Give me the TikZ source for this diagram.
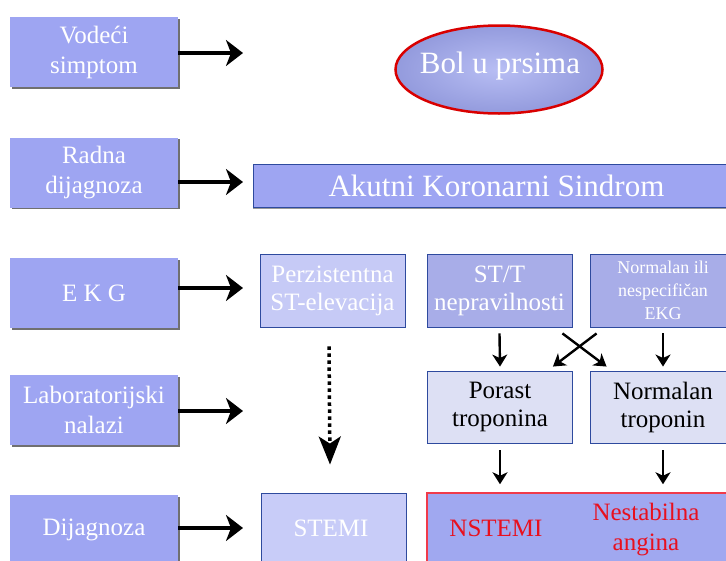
\documentclass[tikz,border=0pt]{standalone}
\usepackage{fontspec}
\setmainfont{Liberation Serif}
\usetikzlibrary{arrows.meta,shadows,shapes.geometric}
\definecolor{lboxc}{HTML}{9EA5F2}
\definecolor{perzc}{HTML}{C6CAF6}
\definecolor{sttc}{HTML}{A8ADE8}
\definecolor{porc}{HTML}{DDE0F4}
\definecolor{stemic}{HTML}{C8CCF8}
\definecolor{nstc}{HTML}{A0A8F0}
\definecolor{bordc}{HTML}{2E4A9E}
\definecolor{redb}{HTML}{F03A4A}
\definecolor{redt}{HTML}{E8101E}
\newcommand{\fsz}[2]{\fontsize{#1pt}{#2pt}\selectfont}
\tikzset{
  lbox/.style={fill=lboxc, minimum width=168pt, minimum height=70pt, inner sep=0pt,
    text=white, align=center, font=\fsz{25}{30},
    drop shadow={shadow xshift=1.5pt, shadow yshift=-1.5pt, fill=black!70, opacity=0.8}},
  rbox/.style={draw=bordc, line width=0.9pt, inner sep=0pt, align=center,
    minimum width=145pt, minimum height=73pt, font=\fsz{25}{28}},
  harrow/.style={line width=4.5pt, -{Stealth[length=17pt,width=26pt,inset=5pt]}},
  darrow/.style={line width=2.4pt, -{Stealth[length=12pt,width=15pt,inset=3.5pt]}},
  dotarrow/.style={line width=3.5pt, dash pattern=on 3.5pt off 3.5pt,
    -{Stealth[length=28pt,width=22pt,inset=7pt]}},
}
\begin{document}
\begin{tikzpicture}[x=1pt,y=-1pt]
\useasboundingbox (0,0) rectangle (726,560);
\clip (0,0) rectangle (726,560);

% left column
\node[lbox] (vs) at (94,52) {Vodeći\\simptom};
\node[lbox] (rd) at (94,172.5) {Radna\\dijagnoza};
\node[lbox] (ekg) at (94,293) {E K G};
\node[lbox] (lab) at (94,410) {Laboratorijski\\nalazi};
\node[lbox] (dij) at (94,530) {Dijagnoza};

\coordinate (t1) at (243,53);
\coordinate (t2) at (243,182);
\coordinate (t3) at (243,288);
\coordinate (t4) at (243,411);
\coordinate (t5) at (243,528);
\draw[harrow] (vs.east |- t1) -- (t1);
\draw[harrow] (rd.east |- t2) -- (t2);
\draw[harrow] (ekg.east |- t3) -- (t3);
\draw[harrow] (lab.east |- t4) -- (t4);
\draw[harrow] (dij.east |- t5) -- (t5);

% top ellipse
\node[ellipse, minimum width=207pt, minimum height=88pt, inner sep=0pt,
  inner color=nstc!75!white, outer color=nstc!92!black,
  draw=red!85!black, line width=2.5pt] (bol) at (499,69.5) {};
\node[text=white, font=\fsz{31}{36}, inner sep=0pt] (bolt) at (500,66) {Bol u prsima};

% AKS bar
\node[rbox, fill=lboxc, minimum width=487pt, minimum height=43pt, text=white,
  font=\fsz{31}{36}, drop shadow={shadow xshift=0pt, shadow yshift=-1.5pt, fill=black!80}] (aks) at (496.5,185.5) {Akutni Koronarni Sindrom};

% EKG row
\node[rbox, fill=perzc, text=white] (perz) at (332.5,290.5) {Perzistentna\\ST-elevacija};
\node[rbox, fill=sttc, text=white] (stt) at (499.5,290.5) {ST/T\\nepravilnosti};
\node[rbox, fill=sttc, text=white, minimum width=146pt, font=\fsz{18}{23}] (nekg) at (663,290.5) {Normalan ili\\nespecifičan\\EKG};

% lab row
\node[rbox, fill=porc, text=black, minimum height=72pt] (por) at (500,407) {Porast\\troponina};
\node[rbox, fill=porc, text=black, minimum height=72pt, minimum width=146pt] (ntr) at (663,407) {Normalan\\troponin};

% diagnosis row
\node[rbox, fill=stemic, text=white, minimum height=77pt] (stemi) at (333.5,531.5) {};
\node[text=white, font=\fsz{25}{30}] (stemit) at (331,528) {STEMI};
\node[draw=redb, line width=1.5pt, fill=nstc, minimum width=318pt, minimum height=77pt, inner sep=0pt] (nbox) at (586,531.5) {};
\node[text=redt, font=\fsz{25}{30}] (nst) at (496,528) {NSTEMI};
\node[text=redt, font=\fsz{25}{30}, align=center] (na) at (646,530) {Nestabilna\\angina};

% connectors
\draw[darrow] ([yshift=-6pt]stt.south) -- ([yshift=4pt]por.north);
\draw[darrow] ([yshift=-6pt]nekg.south) -- ([yshift=4pt]ntr.north);
\draw[darrow] ([xshift=-10pt,yshift=-6pt]stt.south east) -- ([xshift=17pt,yshift=4pt]ntr.north west);
\draw[darrow] ([xshift=7pt,yshift=-6pt]nekg.south west) -- ([xshift=-20pt,yshift=4pt]por.north east);
\draw[darrow] ([yshift=-7pt]por.south) -- ([yshift=8pt]nbox.north -| por.south);
\draw[darrow] ([yshift=-7pt]ntr.south) -- ([yshift=8pt]nbox.north -| ntr.south);
\draw[dotarrow] ([xshift=-3.5pt,yshift=-19pt]perz.south) -- ([xshift=-3.5pt,yshift=28pt]stemi.north);
\end{tikzpicture}
\end{document}
